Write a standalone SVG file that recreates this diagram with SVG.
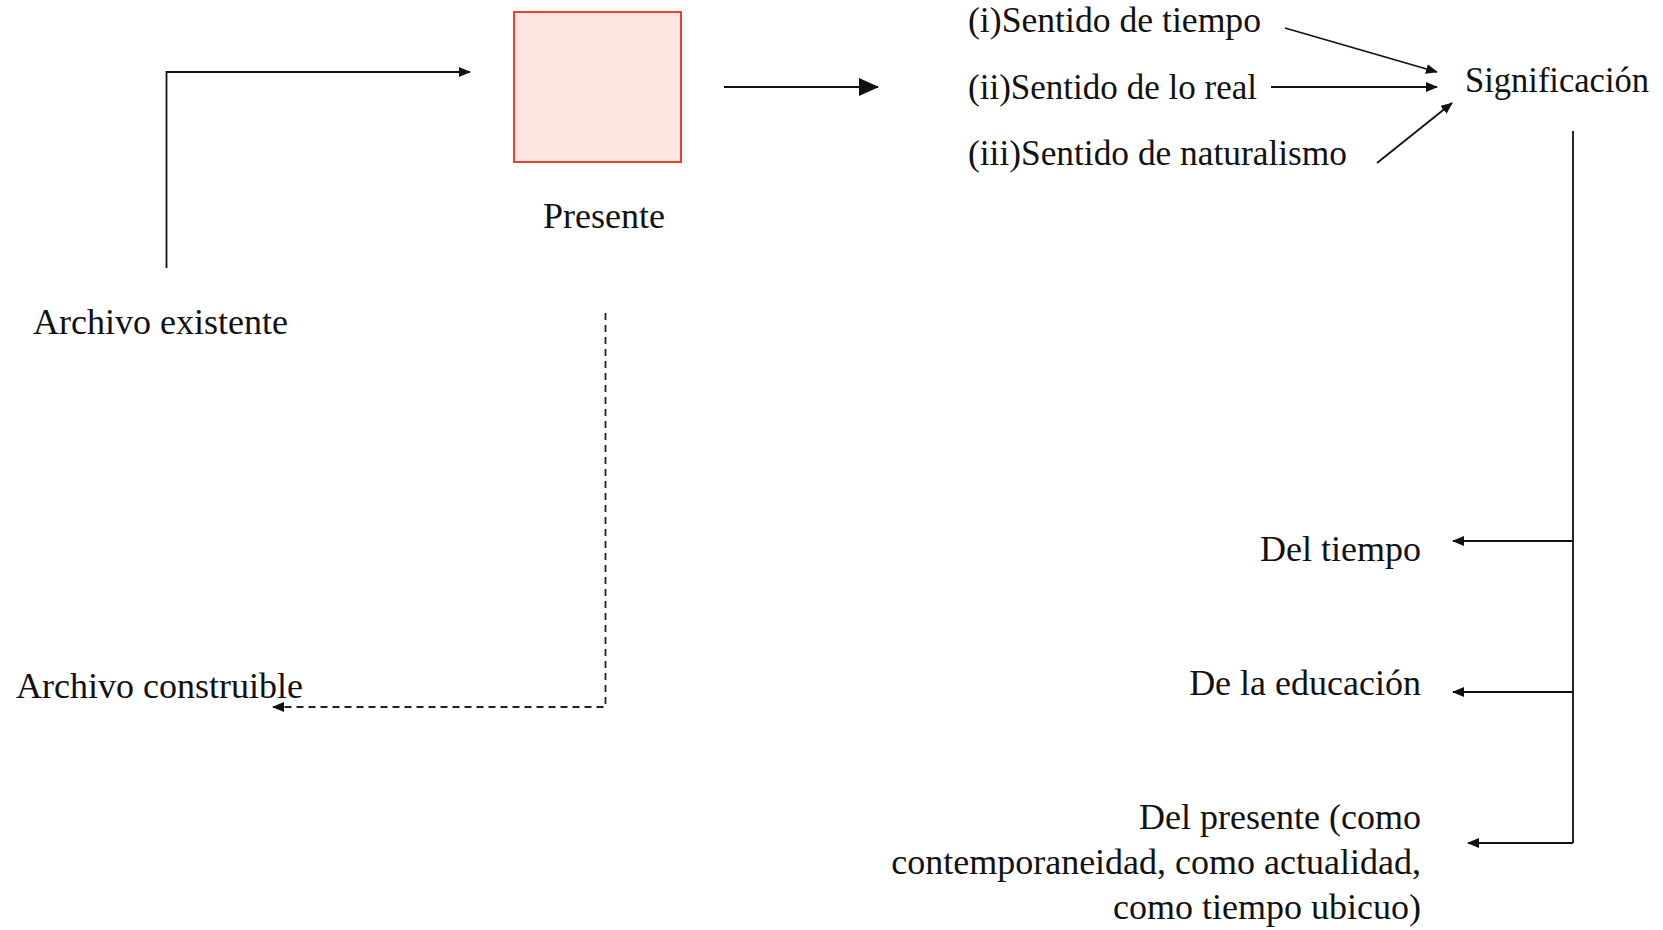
<svg xmlns="http://www.w3.org/2000/svg" width="1663" height="930" viewBox="0 0 1663 930">
<style>
text{font-family:"Liberation Serif","Times New Roman",serif;font-size:36px;fill:#111}
.c{fill:none;stroke:#111;stroke-width:1.8}
.d{fill:none;stroke:#222;stroke-width:1.8;stroke-dasharray:7 5}
.r{text-anchor:end}
</style>
<defs>
<marker id="a" markerWidth="12" markerHeight="10" refX="11" refY="5" orient="auto" markerUnits="userSpaceOnUse"><path d="M0,0 L12,5 L0,10 Z" fill="#111"/></marker>
<marker id="b" markerWidth="20" markerHeight="18" refX="19" refY="9" orient="auto" markerUnits="userSpaceOnUse"><path d="M0,0 L20,9 L0,18 Z" fill="#111"/></marker>
</defs>
<rect width="1663" height="930" fill="#fff"/>
<g id="presente">
<rect x="514" y="12" width="167" height="150" fill="#fde5e1" stroke="#f0402a" stroke-width="2"/>
<text x="604" y="228" text-anchor="middle">Presente</text>
</g>
<g id="archivo-existente"><text x="33" y="334">Archivo existente</text></g>
<g id="archivo-construible"><text x="16" y="698">Archivo construible</text></g>
<g id="sentido-tiempo"><text x="968" y="32" textLength="293" lengthAdjust="spacingAndGlyphs">(i)Sentido de tiempo</text></g>
<g id="sentido-real"><text x="968" y="99" textLength="289" lengthAdjust="spacingAndGlyphs">(ii)Sentido de lo real</text></g>
<g id="sentido-naturalismo"><text x="968" y="165" textLength="379" lengthAdjust="spacingAndGlyphs">(iii)Sentido de naturalismo</text></g>
<g id="significacion"><text x="1465" y="92" textLength="184" lengthAdjust="spacingAndGlyphs">Significación</text></g>
<g id="del-tiempo"><text class="r" x="1421" y="561">Del tiempo</text></g>
<g id="de-la-educacion"><text class="r" x="1421" y="695">De la educación</text></g>
<g id="del-presente">
<text class="r" x="1421" y="829">Del presente (como</text>
<text class="r" x="1421" y="874">contemporaneidad, como actualidad,</text>
<text class="r" x="1421" y="919">como tiempo ubicuo)</text>
</g>
<g id="connectors">
<path class="c" d="M166.5,268 V72 H470" marker-end="url(#a)"/>
<path class="c" d="M724,87 H878" marker-end="url(#b)"/>
<path class="c" d="M1285,28 L1437,72" marker-end="url(#a)"/>
<path class="c" d="M1271,87 H1437" marker-end="url(#a)"/>
<path class="c" d="M1377,163 L1452,103" marker-end="url(#a)"/>
<path class="c" d="M1573,131 V843"/>
<path class="c" d="M1573,541 H1453" marker-end="url(#a)"/>
<path class="c" d="M1573,692 H1453" marker-end="url(#a)"/>
<path class="c" d="M1573,843 H1468" marker-end="url(#a)"/>
<path class="d" d="M605.5,313 V707 H273" marker-end="url(#a)"/>
</g>
</svg>
